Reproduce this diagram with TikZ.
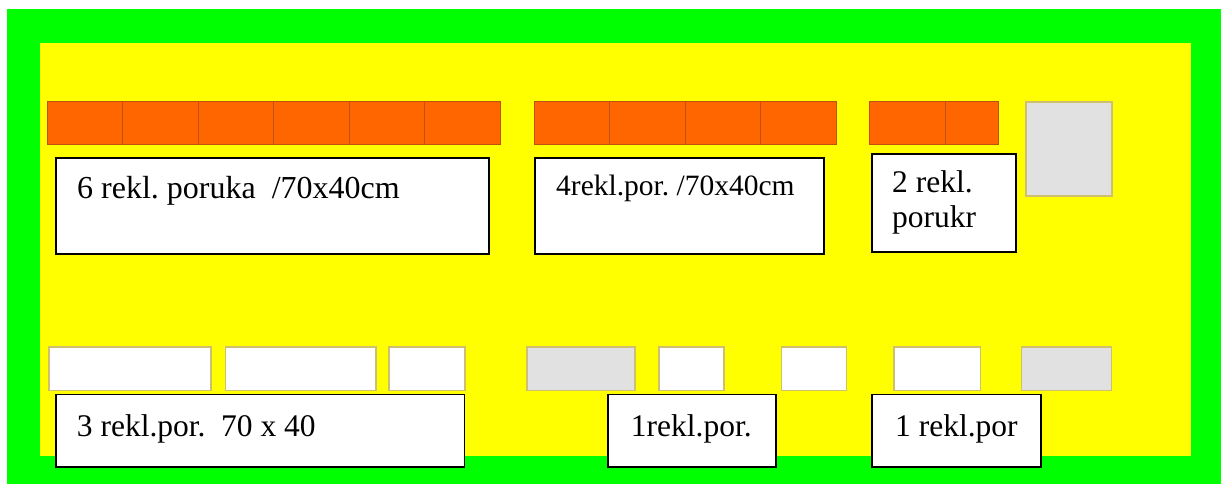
\documentclass[tikz,border=0pt]{standalone}
\usepackage{fontspec}
\setmainfont{Liberation Serif}
\frenchspacing
\definecolor{bggreen}{HTML}{00FF00}
\definecolor{bgyellow}{HTML}{FFFF00}
\definecolor{orangecell}{HTML}{FF6600}
\definecolor{orangeline}{HTML}{C05010}
\definecolor{lightgray}{HTML}{E1E1E1}
\definecolor{slotline}{HTML}{CFC070}
\tikzset{
  rbox/.style={inner sep=0pt, outer sep=0pt, anchor=north west},
  cell/.style={rbox, fill=orangecell, draw=orangeline, line width=0.8pt},
  slot/.style={rbox, fill=white, draw=slotline, line width=1.4pt},
  grayslot/.style={rbox, fill=lightgray, draw=slotline, line width=1.4pt},
  label/.style={rbox, fill=white, draw=black, line width=1.6pt},
  txt/.style={inner sep=0pt, anchor=base west, font=\fontsize{31.5}{34}\selectfont}
}
\begin{document}
\begin{tikzpicture}[x=1pt,y=-1pt]
\useasboundingbox (0,0) rectangle (1221,484);
% background
\node[rbox, fill=bggreen, minimum width=1214pt, minimum height=475pt] (green) at (7,9) {};
\node[rbox, fill=bgyellow, minimum width=1150.5pt, minimum height=413pt] (yellow) at (40,43) {};
% top-left orange row (6 cells)
\foreach \i in {0,...,5}{
  \node[cell, minimum width=75.5pt, minimum height=43pt] (a\i) at (47+75.5*\i,101) {};
}
% middle orange row (4 cells)
\foreach \i in {0,...,3}{
  \node[cell, minimum width=75.5pt, minimum height=43pt] (b\i) at (534+75.5*\i,101) {};
}
% right orange row (2 cells)
\node[cell, minimum width=76pt, minimum height=43pt] (c0) at (869,101) {};
\node[cell, minimum width=53pt, minimum height=43pt] (c1) at (945,101) {};
% gray square top right
\node[grayslot, minimum width=86pt, minimum height=94pt] (gsq) at (1026,102) {};
% top label boxes
\node[label, minimum width=433pt, minimum height=96pt] (L1) at (55.7,158) {};
\node[txt, font=\fontsize{32}{34}\selectfont] (T1) at (77,198) {6 rekl. poruka\ \ /70x40cm};
\node[label, minimum width=289pt, minimum height=96pt] (L2) at (535,158) {};
\node[txt, font=\fontsize{29.5}{32}\selectfont] (T2) at (556,195) {4rekl.por. /70x40cm};
\node[label, minimum width=144.3pt, minimum height=98pt] (L3) at (871.7,154) {};
\node[txt] (T3a) at (892,193) {2 rekl.};
\node[txt] (T3b) at (892,227) {porukr};
% bottom slots
\node[slot, minimum width=162pt, minimum height=43.7pt] (s1) at (49,347) {};
\node[slot, minimum width=150.3pt, minimum height=43.7pt] (s2) at (225.7,347) {};
\node[slot, minimum width=76pt, minimum height=43.7pt] (s3) at (389,347) {};
\node[grayslot, minimum width=108pt, minimum height=43.7pt] (s4) at (527,347) {};
\node[slot, minimum width=65pt, minimum height=43.7pt] (s5) at (659,347) {};
\node[slot, minimum width=65pt, minimum height=43.7pt] (s6) at (781.7,347) {};
\node[slot, minimum width=86.7pt, minimum height=43.7pt] (s7) at (894,347) {};
\node[grayslot, minimum width=90pt, minimum height=43.7pt] (s8) at (1021.7,347) {};
% bottom label boxes
\node[label, minimum width=408.3pt, minimum height=72.4pt] (LA) at (56,394.3) {};
\node[txt] (TA) at (76.7,436) {3 rekl.por.\ \ 70 x 40};
\node[label, minimum width=168.3pt, minimum height=72.4pt] (LB) at (607.7,394.3) {};
\node[txt] (TB) at (630.7,436) {1rekl.por.};
\node[label, minimum width=169pt, minimum height=72.4pt] (LC) at (871.7,394.3) {};
\node[txt] (TC) at (895,436) {1 rekl.por};
\end{tikzpicture}
\end{document}
